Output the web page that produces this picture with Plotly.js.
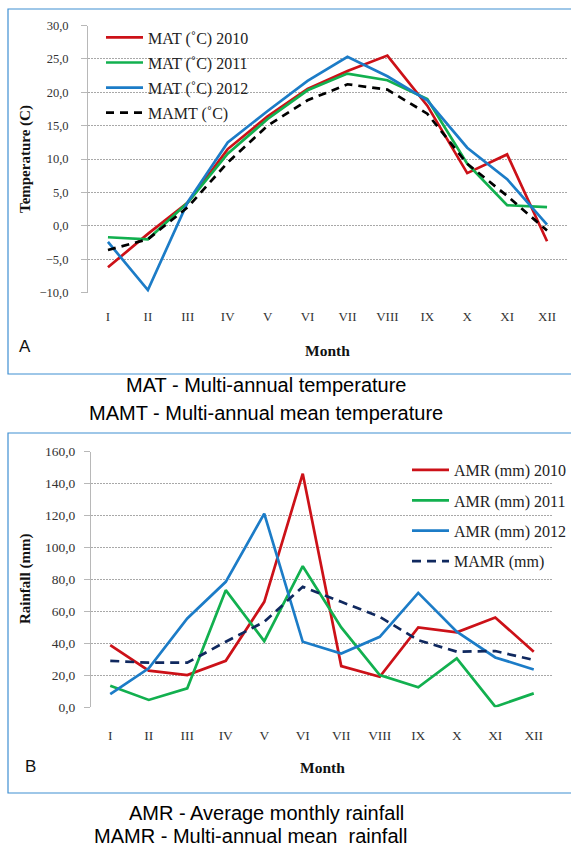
<!DOCTYPE html>
<html>
<head>
<meta charset="utf-8">
<script src="https://cdn.plot.ly/plotly-3.0.1.min.js"></script>
<style>html,body{margin:0;padding:0;background:#fff;}#chart{width:571px;height:846px;}</style>
</head>
<body>
<div id="chart"></div>
<script>
// ---- data ----
const months = ["I","II","III","IV","V","VI","VII","VIII","IX","X","XI","XII"];

const temp2010 = [-6.2, -1.2, 3.5, 11.5, 16.4, 20.5, 23.2, 25.5, 18.0, 7.9, 10.7, -2.3];
const temp2011 = [-1.7, -2.0, 3.5, 10.8, 16.0, 20.3, 22.8, 21.8, 19.0, 9.3, 3.1, 2.8];
const temp2012 = [-2.4, -9.6, 3.6, 12.5, 17.2, 21.7, 25.3, 22.4, 18.8, 11.7, 7.0, 0.2];
const tempMean = [-3.6, -2.0, 2.8, 9.5, 15.0, 18.8, 21.2, 20.4, 16.8, 9.3, 4.5, -0.7];

const rain2010 = [38.9, 22.9, 20.2, 29.1, 66.0, 146.2, 25.8, 19.1, 50.0, 46.9, 56.2, 34.8];
const rain2011 = [13.5, 4.6, 11.9, 73.3, 41.4, 88.3, 50.0, 20.2, 12.5, 30.6, 0.4, 8.7];
const rain2012 = [8.3, 24.4, 55.6, 78.5, 121.2, 41.0, 33.7, 44.1, 71.6, 47.3, 31.2, 23.7];
const rainMean = [29.1, 27.9, 27.9, 41.0, 53.5, 75.4, 66.0, 56.6, 42.0, 34.8, 35.2, 29.6];

const tempNames = ["MAT (˚C) 2010", "MAT (˚C) 2011", "MAT (˚C) 2012", "MAMT (˚C)"];
const rainNames = ["AMR (mm) 2010", "AMR (mm) 2011", "AMR (mm) 2012", "MAMR (mm)"];

// ---- styling ----
const W = 571, H = 846;
const px = v => v / W;
const py = v => 1 - v / H;
const RED = "#CC1118", GREEN = "#12B04F", BLUE = "#1C7CC7", BLACK = "#000000", NAVY = "#10295F";
const SERIF = "'Liberation Serif', 'Times New Roman', serif";
const SANS = "'Liberation Sans', Arial, sans-serif";

function line(x, y, name, color, dash, xa, ya, leg, grp) {
  return {
    type: "scatter", mode: "lines", x: x, y: y, name: name,
    xaxis: xa, yaxis: ya, legend: leg, legendgroup: grp,
    line: {color: color, width: 2.7, dash: dash || "solid"},
    hoverinfo: "skip"
  };
}

const data = [
  line(months, temp2010, tempNames[0], RED, null, "x", "y", "legend", "a1"),
  line(months, temp2011, tempNames[1], GREEN, null, "x", "y", "legend", "a2"),
  line(months, temp2012, tempNames[2], BLUE, null, "x", "y", "legend", "a3"),
  line(months, tempMean, tempNames[3], BLACK, "8px,6px", "x", "y", "legend", "a4"),
  line(months, rain2010, rainNames[0], RED, null, "x2", "y2", "legend2", "b1"),
  line(months, rain2011, rainNames[1], GREEN, null, "x2", "y2", "legend2", "b2"),
  line(months, rain2012, rainNames[2], BLUE, null, "x2", "y2", "legend2", "b3"),
  line(months, rainMean, rainNames[3], NAVY, "9px,6px", "x2", "y2", "legend2", "b4")
];

const gridCol = "#A8A8A8";
function xAxis(domain, anchor, standoff, size) {
  return {
    domain: domain, anchor: anchor, type: "category", range: [-0.5, 11.5],
    showgrid: false, zeroline: false, showline: false, ticks: "",
    ticklabelstandoff: standoff,
    tickfont: {family: SERIF, size: size, color: "#333333"}
  };
}
function yAxis(domain, anchor, range, dtick, standoff, size) {
  return {
    domain: domain, anchor: anchor, range: range, dtick: dtick, tick0: 0,
    tickformat: ".1f", showgrid: true, gridcolor: gridCol, gridwidth: 1, griddash: "2px,1px",
    zeroline: false, showline: true, linecolor: "#B8B8B8", linewidth: 1,
    ticks: "outside", ticklen: 6, tickcolor: "#B8B8B8",
    ticklabelstandoff: standoff,
    tickfont: {family: SERIF, size: size, color: "#333333"}
  };
}

function ann(text, x, y, font, angle) {
  const a = {text: text, xref: "paper", yref: "paper", x: px(x), y: py(y),
    xanchor: "center", yanchor: "middle", showarrow: false, font: font};
  if (angle) a.textangle = angle;
  return a;
}

const layout = {
  width: W, height: H,
  margin: {l: 0, r: 0, t: 0, b: 0},
  paper_bgcolor: "#ffffff", plot_bgcolor: "rgba(0,0,0,0)",
  separators: ",.",
  showlegend: true,
  xaxis: xAxis([px(88), px(567)], "y", 14, 13),
  yaxis: yAxis([py(292.7), py(25.5)], "x", [-10, 30], 5, 10, 12.5),
  xaxis2: xAxis([px(91), px(553)], "y2", 18, 13.5),
  yaxis2: yAxis([py(707.3), py(451.6)], "x2", [0, 160], 20, 6, 13.5),
  legend: {
    x: px(101), y: py(20.5), xanchor: "left", yanchor: "top",
    bgcolor: "rgba(0,0,0,0)", borderwidth: 0, tracegroupgap: 1.3,
    font: {family: SERIF, size: 16, color: "#222222"}, itemwidth: 37
  },
  legend2: {
    x: px(407), y: py(453), xanchor: "left", yanchor: "top",
    bgcolor: "rgba(0,0,0,0)", borderwidth: 0, tracegroupgap: 6.6,
    font: {family: SERIF, size: 16, color: "#222222"}, itemwidth: 37
  },
  shapes: [
    {type: "rect", xref: "paper", yref: "paper", x0: px(8), x1: 1.01, y0: py(374), y1: py(9),
     line: {color: "#3F8FD2", width: 1.2}, fillcolor: "rgba(0,0,0,0)"},
    {type: "rect", xref: "paper", yref: "paper", x0: px(8), x1: 1.01, y0: py(793), y1: py(433),
     line: {color: "#3F8FD2", width: 1.2}, fillcolor: "rgba(0,0,0,0)"}
  ],
  annotations: [
    ann("<b>Temperature (C)</b>", 25, 159, {family: SERIF, size: 15, color: "#111"}, -90),
    ann("<b>Month</b>", 328, 350, {family: SERIF, size: 15.5, color: "#111"}),
    ann("A", 25.5, 346, {family: SANS, size: 17, color: "#111"}),
    ann("<b>Rainfall (mm)</b>", 25, 579, {family: SERIF, size: 15, color: "#111"}, -90),
    ann("<b>Month</b>", 322, 767, {family: SERIF, size: 15.5, color: "#111"}),
    ann("B", 30.5, 766, {family: SANS, size: 17, color: "#111"}),
    ann("MAT - Multi-annual temperature", 266, 385, {family: SANS, size: 20, color: "#000"}),
    ann("MAMT - Multi-annual mean temperature", 266, 413, {family: SANS, size: 20, color: "#000"}),
    ann("AMR - Average monthly rainfall", 266.5, 812.5, {family: SANS, size: 20, color: "#000"}),
    ann("MAMR - Multi-annual mean\u00a0 rainfall", 250, 836, {family: SANS, size: 20, color: "#000"})
  ]
};

Plotly.newPlot("chart", data, layout, {displayModeBar: false, staticPlot: true});
</script>
</body>
</html>
